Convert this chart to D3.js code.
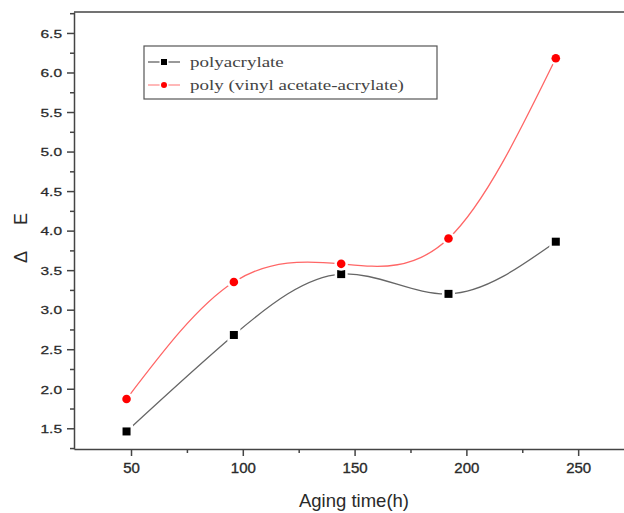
<!DOCTYPE html>
<html>
<head>
<meta charset="utf-8">
<script src="https://cdn.jsdelivr.net/npm/d3@7"></script>
<style>
    body { margin: 0; background: #fff; }
    svg { display: block; }
</style>
</head>
<body>
<svg id="chart" width="624" height="513"></svg>
<script>
// data
let agingTime = [48, 96, 144, 192, 240];
let polyacrylate = [1.46, 2.68, 3.45, 3.20, 3.86];
let polyVinyl = [1.87, 3.35, 3.58, 3.90, 6.18];
let seriesNames = ["polyacrylate", "poly (vinyl acetate-acrylate)"];
let xTickValues = [50, 100, 150, 200, 250];
let xMinorValues = [75, 125, 175, 225];
let yTickValues = [1.5, 2.0, 2.5, 3.0, 3.5, 4.0, 4.5, 5.0, 5.5, 6.0, 6.5];
let yMinorValues = [1.25, 1.75, 2.25, 2.75, 3.25, 3.75, 4.25, 4.75, 5.25, 5.75, 6.25, 6.75];

let plotLeft = 74, plotRight = 624, plotTop = 12, plotBottom = 449;

let svg = d3.select("#chart");

let x = d3.scaleLinear().domain([24.5, 270.5]).range([plotLeft, plotRight]);
let y = d3.scaleLinear().domain([1.238, 6.765]).range([plotBottom, plotTop]);

// top frame line (right side is cropped off)
svg.append("line")
    .attr("x1", plotLeft).attr("x2", plotRight)
    .attr("y1", plotTop).attr("y2", plotTop)
    .attr("stroke", "#444")
    .attr("stroke-width", 1.5);

// x axis
let xAxis = svg.append("g")
    .attr("transform", `translate(0,${plotBottom})`)
    .call(d3.axisBottom(x).tickValues(xTickValues).tickSize(7).tickPadding(6).tickSizeOuter(0));
svg.append("g")
    .attr("transform", `translate(0,${plotBottom})`)
    .call(d3.axisBottom(x).tickValues(xMinorValues).tickSize(4).tickFormat("").tickSizeOuter(0))
    .select(".domain").remove();

// y axis
let yAxis = svg.append("g")
    .attr("transform", `translate(${plotLeft},0)`)
    .call(d3.axisLeft(y).tickValues(yTickValues).tickSize(7).tickPadding(5)
        .tickFormat(d3.format(".1f")).tickSizeOuter(0));
svg.append("g")
    .attr("transform", `translate(${plotLeft},0)`)
    .call(d3.axisLeft(y).tickValues(yMinorValues).tickSize(4).tickFormat("").tickSizeOuter(0))
    .select(".domain").remove();

svg.selectAll(".domain, .tick line")
    .attr("stroke", "#444")
    .attr("stroke-width", 1.5);

xAxis.selectAll("text")
    .attr("font-family", "Liberation Sans, Arial, sans-serif")
    .attr("font-size", 15)
    .attr("fill", "#2a2a2a")
    .attr("stroke", "#2a2a2a")
    .attr("stroke-width", 0.35);

// y labels look squashed vertically in the original
yAxis.selectAll(".tick text")
    .attr("font-family", "Liberation Sans, Arial, sans-serif")
    .attr("font-size", 15.5)
    .attr("fill", "#2a2a2a")
    .attr("stroke", "#2a2a2a")
    .attr("stroke-width", 0.35)
    .attr("dy", "0.36em")
    .attr("transform", "scale(1,0.76)");

// axis titles
svg.append("text")
    .attr("x", 354)
    .attr("y", 507)
    .attr("text-anchor", "middle")
    .attr("font-family", "Liberation Sans, Arial, sans-serif")
    .attr("font-size", 18.5)
    .attr("fill", "#2a2a2a")
    .text("Aging time(h)");

svg.append("text")
    .attr("transform", "translate(27,257) rotate(-90)")
    .attr("text-anchor", "middle")
    .attr("font-family", "Liberation Sans, Arial, sans-serif")
    .attr("font-size", 18)
    .attr("fill", "#2a2a2a")
    .text("Δ");
svg.append("text")
    .attr("transform", "translate(27,219) rotate(-90)")
    .attr("text-anchor", "middle")
    .attr("font-family", "Liberation Sans, Arial, sans-serif")
    .attr("font-size", 18)
    .attr("fill", "#2a2a2a")
    .text("E");

// curves
let line = d3.line()
    .x((d, i) => x(agingTime[i]))
    .y(d => y(d))
    .curve(d3.curveNatural);

svg.append("path")
    .attr("d", line(polyacrylate))
    .attr("fill", "none")
    .attr("stroke", "#666")
    .attr("stroke-width", 1.3);

svg.append("path")
    .attr("d", line(polyVinyl))
    .attr("fill", "none")
    .attr("stroke", "#f66")
    .attr("stroke-width", 1.3);

// markers, white outline makes the little gap in the line
svg.append("g").selectAll("rect")
    .data(polyacrylate)
    .enter().append("rect")
    .attr("x", (d, i) => x(agingTime[i]) - 4)
    .attr("y", d => y(d) - 4)
    .attr("width", 8)
    .attr("height", 8)
    .attr("fill", "#000")
    .attr("stroke", "#fff")
    .attr("stroke-width", 5)
    .attr("paint-order", "stroke");

svg.append("g").selectAll("circle")
    .data(polyVinyl)
    .enter().append("circle")
    .attr("cx", (d, i) => x(agingTime[i]))
    .attr("cy", d => y(d))
    .attr("r", 4.3)
    .attr("fill", "#f00")
    .attr("stroke", "#fff")
    .attr("stroke-width", 5)
    .attr("paint-order", "stroke");

// legend
let legend = svg.append("g");
legend.append("rect")
    .attr("x", 144).attr("y", 46)
    .attr("width", 293).attr("height", 53)
    .attr("fill", "#fff")
    .attr("stroke", "#555")
    .attr("stroke-width", 1.2);

let legendColors = [["#555", "#000"], ["#f88", "#f00"]];
seriesNames.forEach(function (name, i) {
    let ly = 62 + i * 23;
    legend.append("line")
        .attr("x1", 148).attr("x2", 180)
        .attr("y1", ly).attr("y2", ly)
        .attr("stroke", legendColors[i][0])
        .attr("stroke-width", 1.2);
    if (i === 0) {
        legend.append("rect")
            .attr("x", 161).attr("y", ly - 3)
            .attr("width", 6).attr("height", 6)
            .attr("fill", "#000")
            .attr("stroke", "#fff").attr("stroke-width", 3)
            .attr("paint-order", "stroke");
    } else {
        legend.append("circle")
            .attr("cx", 164).attr("cy", ly)
            .attr("r", 3)
            .attr("fill", "#f00")
            .attr("stroke", "#fff").attr("stroke-width", 3)
            .attr("paint-order", "stroke");
    }
    legend.append("text")
        .attr("transform", `translate(190,${ly + 5}) scale(1,0.8)`)
        .attr("font-family", "Liberation Serif, Times New Roman, serif")
        .attr("font-size", 19)
        .attr("fill", "#444")
        .text(name);
});
</script>
</body>
</html>
